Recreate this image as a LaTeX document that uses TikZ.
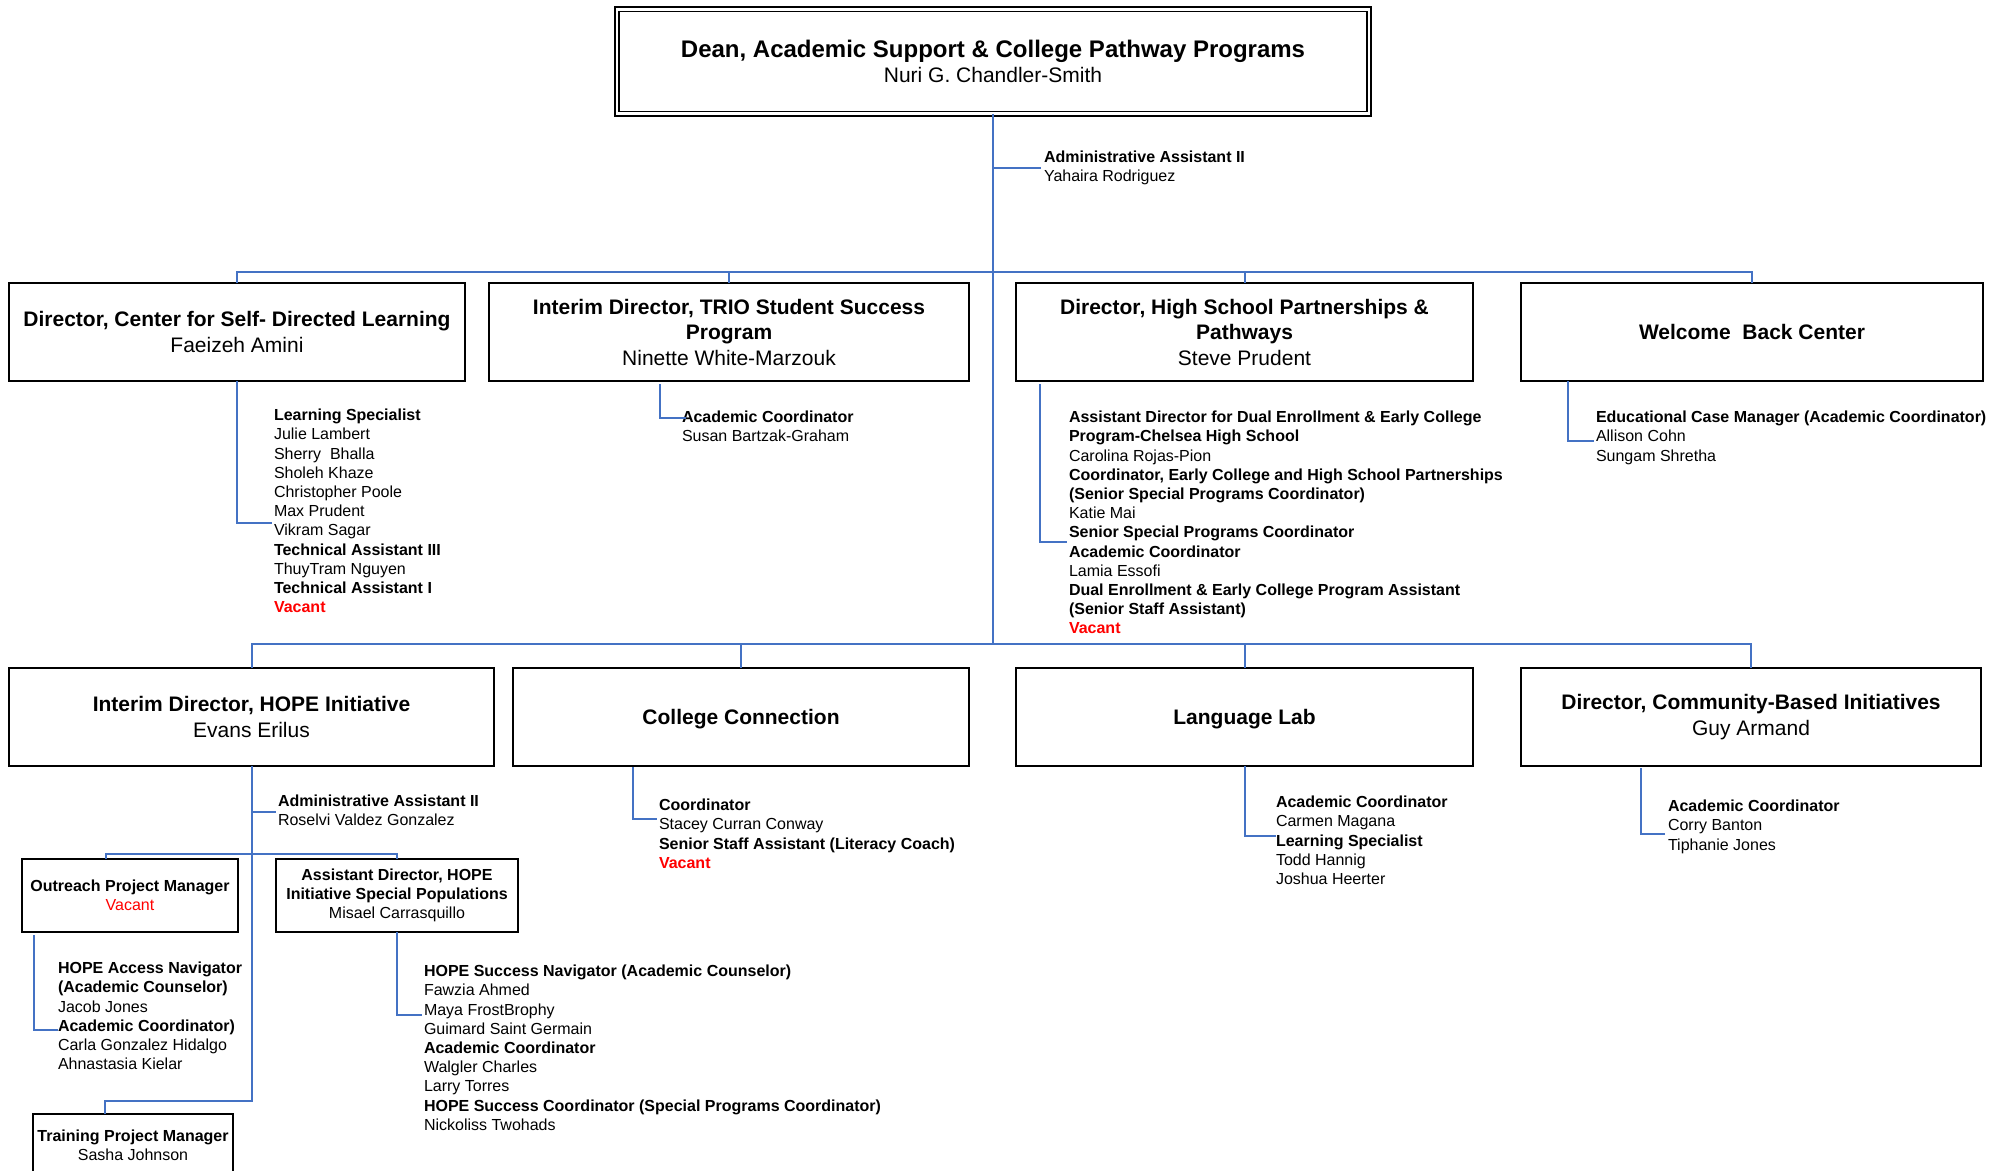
\documentclass[tikz,border=0pt]{standalone}
\usepackage{fontspec}
\setmainfont{Liberation Sans}
\definecolor{conncol}{HTML}{4472C4}
\definecolor{vac}{HTML}{FF0000}
\newcommand\vacb{\textcolor{vac}{\textbf{Vacant}}}
\tikzset{
  box/.style={draw=black, line width=2pt, inner sep=0pt, outer sep=0pt, align=center, font=\fontsize{21}{25.5}\selectfont},
  sbox/.style={draw=black, line width=2pt, inner sep=0pt, outer sep=0pt, align=center, font=\fontsize{16}{19.3}\selectfont},
  sub/.style={anchor=north west, inner sep=0pt, outer sep=0pt, align=left, font=\fontsize{16}{19.2}\selectfont},
  conn/.style={draw=conncol, line width=2pt},
}
\begin{document}
\begin{tikzpicture}[x=1pt,y=-1pt]
\useasboundingbox[fill=white] (0,0) rectangle (2007,1170);
\clip (0,0) rectangle (2007,1170);

% Dean
\node[draw=black, double=white, double distance=2.8pt, line width=1.6pt, inner sep=0pt, outer sep=0pt,
      minimum width=752pt, minimum height=104.5pt, align=center] (dean) at (993,61.5)
  {\fontsize{24}{27}\selectfont\textbf{Dean, Academic Support \& College Pathway Programs}\\[4pt]
   \fontsize{21}{27}\selectfont Nuri G. Chandler-Smith};

% Row 1 boxes
\node[box, minimum width=456pt, minimum height=98pt] (b1) at (237,332)
  {\textbf{Director, Center for Self- Directed Learning}\\Faeizeh Amini};
\node[box, minimum width=480pt, minimum height=98pt] (b2) at (729,332)
  {\textbf{Interim Director, TRIO Student Success}\\\textbf{Program}\\Ninette White-Marzouk};
\node[box, minimum width=457pt, minimum height=98pt] (b3) at (1244.5,332)
  {\textbf{Director, High School Partnerships \&}\\\textbf{Pathways}\\Steve Prudent};
\node[box, minimum width=462pt, minimum height=98pt] (b4) at (1752,332)
  {\textbf{Welcome\ \ Back Center}};

% Row 2 boxes
\node[box, minimum width=485pt, minimum height=98pt] (c1) at (251.5,717)
  {\textbf{Interim Director, HOPE Initiative}\\Evans Erilus};
\node[box, minimum width=456pt, minimum height=98pt] (c2) at (741,717)
  {\smash{\raisebox{-7.5pt}{\textbf{College Connection}}}};
\node[box, minimum width=457pt, minimum height=98pt] (c3) at (1244.5,717)
  {\smash{\raisebox{-7.5pt}{\textbf{Language Lab}}}};
\node[box, minimum width=460pt, minimum height=98pt] (c4) at (1751,717)
  {\textbf{Director, Community-Based Initiatives}\\Guy Armand};

% Small boxes (HOPE)
\node[sbox, minimum width=216pt, minimum height=73pt] (o) at (130,895.5)
  {\textbf{Outreach Project Manager}\\\textcolor{vac}{Vacant}};
\node[sbox, minimum width=242pt, minimum height=73pt] (a) at (397,895.5)
  {\textbf{Assistant Director, HOPE}\\\textbf{Initiative Special Populations}\\Misael Carrasquillo};
\node[sbox, minimum width=200pt, minimum height=62pt] (t) at (133,1145)
  {\textbf{Training Project Manager}\\Sasha Johnson};

% Text blocks
\node[sub] (s0) at (1044,151) {\textbf{Administrative Assistant II}\\Yahaira Rodriguez};
\node[sub] (s1) at (274,409) {\textbf{Learning Specialist}\\Julie Lambert\\Sherry\ \ Bhalla\\Sholeh Khaze\\Christopher Poole\\Max Prudent\\Vikram Sagar\\\textbf{Technical Assistant III}\\ThuyTram Nguyen\\\textbf{Technical Assistant I}\\\vacb};
\node[sub] (s2) at (682,411) {\textbf{Academic Coordinator}\\Susan Bartzak-Graham};
\node[sub] (s3) at (1069,411) {\textbf{Assistant Director for Dual Enrollment \& Early College}\\\textbf{Program-Chelsea High School}\\Carolina Rojas-Pion\\\textbf{Coordinator, Early College and High School Partnerships}\\\textbf{(Senior Special Programs Coordinator)}\\Katie Mai\\\textbf{Senior Special Programs Coordinator}\\\textbf{Academic Coordinator}\\Lamia Essofi\\\textbf{Dual Enrollment \& Early College Program Assistant}\\\textbf{(Senior Staff Assistant)}\\\vacb};
\node[sub] (s4) at (1596,411) {\textbf{Educational Case Manager (Academic Coordinator)}\\Allison Cohn\\Sungam Shretha};
\node[sub] (h0) at (278,795) {\textbf{Administrative Assistant II}\\Roselvi Valdez Gonzalez};
\node[sub] (cc) at (659,799) {\textbf{Coordinator}\\Stacey Curran Conway\\\textbf{Senior Staff Assistant (Literacy Coach)}\\\vacb};
\node[sub] (ll) at (1276,796) {\textbf{Academic Coordinator}\\Carmen Magana\\\textbf{Learning Specialist}\\Todd Hannig\\Joshua Heerter};
\node[sub] (cm) at (1668,800) {\textbf{Academic Coordinator}\\Corry Banton\\Tiphanie Jones};
\node[sub] (os) at (58,962) {\textbf{HOPE Access Navigator}\\\textbf{(Academic Counselor)}\\Jacob Jones\\\textbf{Academic Coordinator)}\\Carla Gonzalez Hidalgo\\Ahnastasia Kielar};
\node[sub] (as) at (424,965) {\textbf{HOPE Success Navigator (Academic Counselor)}\\Fawzia Ahmed\\Maya FrostBrophy\\Guimard Saint Germain\\\textbf{Academic Coordinator}\\Walgler Charles\\Larry Torres\\\textbf{HOPE Success Coordinator (Special Programs Coordinator)}\\Nickoliss Twohads};

% Main connectors
\coordinate (j0) at (993,644);
\coordinate (r1) at (993,272);
\coordinate (a0) at (1041,168);
\draw[conn] (dean.south) -- (j0);
\draw[conn] (dean.south |- a0) -- (a0);
\draw[conn] (b1.north) |- (r1) -| (b4.north);
\draw[conn] (b2.north) -- (b2.north |- r1);
\draw[conn] (b3.north) -- (b3.north |- r1);
\draw[conn] (c1.north) |- (j0) -| (c4.north);
\draw[conn] (c2.north) -- (c2.north |- j0);
\draw[conn] (c3.north) -- (c3.north |- j0);

% Sub connectors row 1
\coordinate (e1) at (272,523);
\draw[conn] (b1.south) |- (e1);
\coordinate (f2) at (660,384); \coordinate (e2) at (686,418);
\draw[conn] (f2) |- (e2);
\coordinate (f3) at (1040,384); \coordinate (e3) at (1067,542);
\draw[conn] (f3) |- (e3);
\coordinate (f4) at (1568,381); \coordinate (e4) at (1594,441);
\draw[conn] (f4) |- (e4);

% Sub connectors row 2
\coordinate (tk) at (105,1101);
\draw[conn] (c1.south) |- (tk) -- (tk |- t.north);
\coordinate (e5) at (276,812);
\draw[conn] (c1.south |- e5) -- (e5);
\coordinate (ob) at (106,854);
\draw[conn] (ob |- o.north) -- (ob) -| (a.north);
\coordinate (f6) at (34,935); \coordinate (e6) at (58,1030);
\draw[conn] (f6) |- (e6);
\coordinate (e7) at (422,1015);
\draw[conn] (a.south) |- (e7);
\coordinate (f8) at (633,767); \coordinate (e8) at (657,819);
\draw[conn] (f8) |- (e8);
\coordinate (e9) at (1276,836);
\draw[conn] (c3.south) |- (e9);
\coordinate (f10) at (1641,768); \coordinate (e10) at (1665,834);
\draw[conn] (f10) |- (e10);
\end{tikzpicture}
\end{document}
